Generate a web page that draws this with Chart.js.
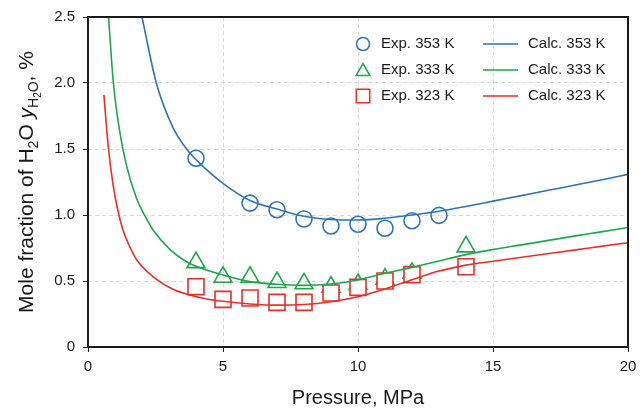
<!DOCTYPE html>
<html>
<head>
<meta charset="utf-8">
<script src="https://cdn.jsdelivr.net/npm/chart.js@4/dist/chart.umd.min.js"></script>
<style>
  html, body { margin: 0; padding: 0; background: #fff; }
  #wrap { width: 644px; height: 409px; }
</style>
</head>
<body>
<div id="wrap"><canvas id="chart" width="644" height="409"></canvas></div>
<script>
// experimental points
const expX353 = [4, 6, 7, 8, 9, 10, 11, 12, 13];
const expY353 = [1.43, 1.09, 1.04, 0.97, 0.917, 0.93, 0.90, 0.957, 0.997];
const expX333 = [4, 5, 6, 7, 8, 9, 10, 11, 12, 14];
const expY333 = [0.64, 0.53, 0.53, 0.49, 0.48, 0.455, 0.475, 0.515, 0.56, 0.76];
const expX323 = [4, 5, 6, 7, 8, 9, 10, 11, 12, 14];
const expY323 = [0.457, 0.361, 0.371, 0.338, 0.338, 0.409, 0.452, 0.50, 0.548, 0.608];

// calculated curves
const calcX353 = [2.0, 2.53, 3.13, 3.65, 4, 5, 6, 7, 8, 9, 10, 11, 12, 13, 14, 15, 16, 17, 18, 19, 20];
const calcY353 = [2.5, 2.0, 1.67, 1.50, 1.42, 1.24, 1.11, 1.045, 0.99, 0.966, 0.962, 0.975, 1.0, 1.028, 1.065, 1.105, 1.145, 1.185, 1.225, 1.265, 1.308];
const calcX333 = [0.76, 0.94, 1.17, 1.42, 1.79, 2.13, 2.41, 3.03, 3.65, 4.39, 5, 6, 7, 8, 9, 10, 11, 12, 13, 14, 15, 16, 17, 18, 19, 20];
const calcY333 = [2.5, 2.0, 1.64, 1.38, 1.13, 0.985, 0.886, 0.74, 0.646, 0.583, 0.545, 0.495, 0.475, 0.467, 0.477, 0.508, 0.558, 0.603, 0.652, 0.700, 0.738, 0.772, 0.806, 0.840, 0.872, 0.905];
const calcX323 = [0.59, 0.74, 0.92, 1.1, 1.29, 1.5, 1.79, 2.41, 3.15, 3.77, 4.39, 5, 6, 7, 8, 9, 10, 11, 12, 13, 14, 15, 16, 17, 18, 19, 20];
const calcY323 = [1.91, 1.54, 1.24, 1.04, 0.89, 0.78, 0.665, 0.533, 0.437, 0.394, 0.364, 0.346, 0.326, 0.317, 0.322, 0.343, 0.38, 0.44, 0.51, 0.575, 0.62, 0.65, 0.678, 0.706, 0.734, 0.762, 0.79];

const xTicks = [0, 5, 10, 15, 20];
const yTicks = [0, 0.5, 1.0, 1.5, 2.0, 2.5];

const BLUE = '#2e74b5';
const GREEN = '#1fa64a';
const RED = '#e5302a';
const FONT = "'Liberation Sans', Arial, sans-serif";

function pts(xs, ys) {
    return xs.map((x, i) => ({ x: x, y: ys[i] }));
}

function expSet(label, xs, ys, color, style, radius, fill, order) {
    return {
        label: label,
        data: pts(xs, ys),
        showLine: false,
        pointStyle: style,
        pointRadius: radius,
        pointHoverRadius: radius,
        pointBorderWidth: 1.6,
        pointBorderColor: color,
        pointBackgroundColor: fill,
        borderColor: color,
        backgroundColor: fill,
        order: order
    };
}

function calcSet(label, xs, ys, color) {
    return {
        label: label,
        data: pts(xs, ys),
        showLine: true,
        borderColor: color,
        borderWidth: 1.6,
        pointRadius: 0,
        cubicInterpolationMode: 'monotone',
        fill: false,
        order: 0
    };
}

// legend drawn inside the plot area, two columns
const legendItems = [
    { text: 'Exp. 353 K', style: 'circle', color: BLUE, r: 6.5, calc: 'Calc. 353 K' },
    { text: 'Exp. 333 K', style: 'triangle', color: GREEN, r: 8, calc: 'Calc. 333 K' },
    { text: 'Exp. 323 K', style: 'rect', color: RED, r: 9.5, calc: 'Calc. 323 K' }
];

const gridOpts = {
    color: '#d9d9d9',
    tickColor: '#1a1a1a',
    tickLength: 5,
    tickBorderDash: [],
    tickWidth: 1
};

const framePlugin = {
    id: 'frame',
    afterDatasetsDraw(chart) {
        const ctx = chart.ctx;
        const a = chart.chartArea;
        ctx.save();
        ctx.strokeStyle = '#1a1a1a';
        ctx.lineWidth = 2;
        ctx.strokeRect(a.left, a.top, a.right - a.left, a.bottom - a.top);

        // legend
        ctx.font = '15px ' + FONT;
        ctx.textBaseline = 'middle';
        legendItems.forEach((it, i) => {
            const y = 44 + i * 26;
            ctx.strokeStyle = it.color;
            ctx.fillStyle = '#fff';
            ctx.lineWidth = 1.5;
            Chart.helpers.drawPoint(ctx, { pointStyle: it.style, radius: it.r, rotation: 0, borderWidth: 1.5 }, 363, y + (it.style === 'triangle' ? 1.5 : 0));
            ctx.beginPath();
            ctx.moveTo(483, y);
            ctx.lineTo(518, y);
            ctx.lineWidth = 1.6;
            ctx.stroke();
            ctx.fillStyle = '#1a1a1a';
            ctx.textAlign = 'left';
            ctx.fillText(it.text, 381, y);
            ctx.fillText(it.calc, 528, y);
        });

        // x title
        ctx.font = '20px ' + FONT;
        ctx.textAlign = 'center';
        ctx.textBaseline = 'alphabetic';
        ctx.fillText('Pressure, MPa', (a.left + a.right) / 2, 404);

        // y title with subscripts
        const parts = [
            { t: 'Mole fraction of H', f: '21px ' + FONT, dy: 0 },
            { t: '2', f: '14px ' + FONT, dy: 5 },
            { t: 'O ', f: '21px ' + FONT, dy: 0 },
            { t: 'y', f: 'italic 21px ' + FONT, dy: 0 },
            { t: 'H', f: '14px ' + FONT, dy: 5 },
            { t: '2', f: '10px ' + FONT, dy: 8 },
            { t: 'O', f: '14px ' + FONT, dy: 5 },
            { t: ', %', f: '21px ' + FONT, dy: 0 }
        ];
        let total = 0;
        parts.forEach(p => { ctx.font = p.f; p.w = ctx.measureText(p.t).width; total += p.w; });
        ctx.translate(33, (a.top + a.bottom) / 2);
        ctx.rotate(-Math.PI / 2);
        ctx.textAlign = 'left';
        let pos = -total / 2;
        parts.forEach(p => {
            ctx.font = p.f;
            ctx.fillText(p.t, pos, p.dy);
            pos += p.w;
        });
        ctx.restore();
    }
};

new Chart(document.getElementById('chart'), {
    type: 'scatter',
    data: {
        datasets: [
            calcSet('Calc. 353 K', calcX353, calcY353, BLUE),
            calcSet('Calc. 333 K', calcX333, calcY333, GREEN),
            calcSet('Calc. 323 K', calcX323, calcY323, RED),
            expSet('Exp. 323 K', expX323, expY323, RED, 'rect', 11.3, '#fff', 1),
            expSet('Exp. 333 K', expX333, expY333, GREEN, 'triangle', 10.3, 'rgba(255,255,255,0)', 2),
            expSet('Exp. 353 K', expX353, expY353, BLUE, 'circle', 8, 'rgba(255,255,255,0)', 3)
        ]
    },
    options: {
        responsive: false,
        animation: false,
        devicePixelRatio: 1,
        layout: { padding: { left: 0, right: 16, top: 17, bottom: 0 } },
        plugins: {
            legend: { display: false },
            tooltip: { enabled: false }
        },
        scales: {
            x: {
                type: 'linear',
                min: 0,
                max: 20,
                afterBuildTicks: s => { s.ticks = xTicks.map(v => ({ value: v })); },
                afterFit: s => { s.height = 62; },
                border: { display: false, dash: [4, 3] },
                grid: gridOpts,
                ticks: {
                    padding: 6,
                    color: '#1a1a1a',
                    font: { family: FONT, size: 15 },
                    maxRotation: 0,
                    callback: v => String(v)
                }
            },
            y: {
                type: 'linear',
                min: 0,
                max: 2.5,
                afterBuildTicks: s => { s.ticks = yTicks.map(v => ({ value: v })); },
                afterFit: s => { s.width = 88; },
                border: { display: false, dash: [4, 3] },
                grid: gridOpts,
                ticks: {
                    padding: 8,
                    color: '#1a1a1a',
                    font: { family: FONT, size: 15 },
                    callback: v => (v === 0 ? '0' : v.toFixed(1))
                }
            }
        }
    },
    plugins: [framePlugin]
});
</script>
</body>
</html>
